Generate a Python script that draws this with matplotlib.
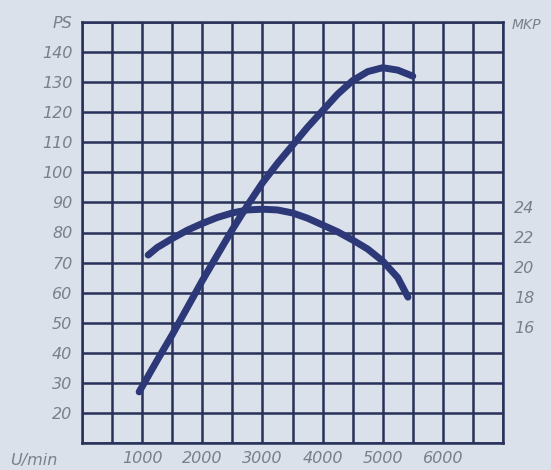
import matplotlib.pyplot as plt
import matplotlib.transforms as mtransforms

# Leistung (PS) over engine speed
rpm_ps = [950, 1250, 1500, 1750, 2000, 2250, 2500, 2750, 3000, 3250,
          3500, 3750, 4000, 4250, 4500, 4750, 5000, 5250, 5500]
ps = [27, 37.5, 46, 55, 64, 72.5, 81, 89, 96.5, 103,
      109, 115, 120.5, 126, 130.5, 133.5, 134.8, 134, 132]

# Drehmoment (mkp) over engine speed
rpm_mkp = [1100, 1250, 1500, 1750, 2000, 2250, 2500, 2750, 3000, 3250,
           3500, 3750, 4000, 4250, 4500, 4750, 5000, 5250, 5420]
mkp = [20.5, 21.0, 21.6, 22.15, 22.6, 23.0, 23.3, 23.5, 23.55, 23.5,
       23.3, 22.95, 22.5, 22.05, 21.5, 20.9, 20.1, 19.0, 17.7]

x_labels = [1000, 2000, 3000, 4000, 5000, 6000]
ps_labels = [20, 30, 40, 50, 60, 70, 80, 90, 100, 110, 120, 130, 140]
mkp_labels = [16, 18, 20, 22, 24]

paper = '#dbe1ea'
grid_col = '#27315a'
ink = '#2c3878'
text_col = '#7a7f8c'

fig = plt.figure(figsize=(5.51, 4.70), dpi=100, facecolor=paper)
ax = fig.add_axes([82 / 551, 1 - 443 / 470, 421 / 551, 421 / 470])
ax.set_facecolor(paper)

ax.set_xlim(0, 7000)
ax.set_ylim(10, 150)

# grid: one cell = 500 U/min x 10 PS
ax.set_xticks(x_labels)
ax.set_xticks(range(0, 7001, 500), minor=True)
ax.set_yticks(ps_labels + [150])
ax.set_yticks(range(10, 151, 10), minor=True)
ax.grid(which='both', color=grid_col, linewidth=1.8)
for s in ax.spines.values():
    s.set_color(grid_col)
    s.set_linewidth(1.8)

ax.set_xticklabels([str(v) for v in x_labels])
ax.set_yticklabels([str(v) for v in ps_labels] + ['PS'])
ax.tick_params(which='both', length=0)
ax.tick_params(axis='x', pad=6)
ax.tick_params(axis='y', pad=7)
for lab in ax.get_xticklabels() + ax.get_yticklabels():
    lab.set_fontstyle('italic')
    lab.set_color(text_col)
    lab.set_fontsize(11.5)

ax.plot(rpm_ps, ps, color=ink, linewidth=5, solid_capstyle='round',
        solid_joinstyle='round', zorder=3)

# torque axis: 16 mkp sits on the 50 PS line, 2 mkp per 10 PS
ax2 = ax.twinx()
ax2.set_ylim(8, 36)
ax2.set_yticks(mkp_labels)
ax2.set_yticklabels([str(v) for v in mkp_labels])
ax2.tick_params(length=0, pad=8)
for s in ax2.spines.values():
    s.set_visible(False)
offset = mtransforms.ScaledTranslation(0, -3 / 72, fig.dpi_scale_trans)
for lab in ax2.get_yticklabels():
    lab.set_fontstyle('italic')
    lab.set_color(text_col)
    lab.set_fontsize(11.5)
    lab.set_transform(lab.get_transform() + offset)

ax2.plot(rpm_mkp, mkp, color=ink, linewidth=5, solid_capstyle='round',
         solid_joinstyle='round', zorder=3)

fig.text(10 / 551, 1 - 460 / 470, 'U/min', fontsize=11.5, fontstyle='italic',
         color=text_col, va='center', ha='left')
fig.text(512 / 551, 1 - 25 / 470, 'MKP', fontsize=10, fontstyle='italic',
         color=text_col, va='center', ha='left')

fig.savefig('out.png', dpi=100, facecolor=paper)
